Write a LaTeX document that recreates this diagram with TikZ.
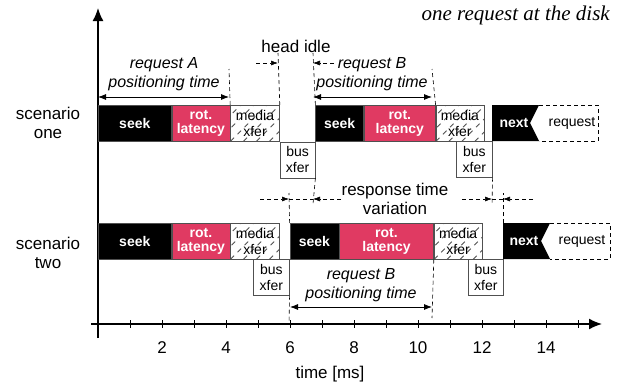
\documentclass[tikz,border=0pt]{standalone}
\usepackage{fontspec}
\setmainfont{Liberation Sans}
\newfontfamily\serifit{Liberation Serif}
\usetikzlibrary{arrows.meta, positioning}
\definecolor{rotcolor}{RGB}{224, 58, 98}
\definecolor{edgecolor}{RGB}{80, 80, 80}
\newcommand\barfont{\fontsize{14}{14}\selectfont\bfseries}
\newcommand\xferfont{\fontsize{14}{16}\selectfont}

\begin{document}
\begin{tikzpicture}[x=1pt, y=-1pt, >=Latex,
  seg/.style={draw=edgecolor, line width=0.6pt, minimum height=36pt,
    inner sep=0pt, anchor=north west, align=center},
  seekbox/.style={seg, fill=black, text=white, font=\barfont},
  rotbox/.style={seg, fill=rotcolor, text=white, font=\barfont},
  busbox/.style={seg, fill=white, font=\xferfont},
  mediabox/.style={seg, fill=white, font=\xferfont,
    path picture={
      \foreach \k in {-52,-39,...,65}
        \draw[line width=0.9pt, dash pattern=on 5pt off 5pt]
          ([xshift=\k pt]path picture bounding box.south west) -- ++(45,-45);
    }},
  guide/.style={line width=0.6pt, dash pattern=on 4pt off 3pt},
  dasharrow/.style={guide, -{Latex[length=7pt, width=5pt]}},
  dimarrow/.style={line width=0.8pt, {Latex[length=8pt, width=6pt]}-{Latex[length=8pt, width=6pt]}},
  axis/.style={line width=1.6pt, -{Latex[length=13pt, width=11pt]}},
  labeltext/.style={font=\fontsize{16}{18.5}\selectfont\itshape, align=center, inner sep=0pt},
  plaintext/.style={font=\fontsize{17}{18.5}\selectfont, align=center, inner sep=0pt}]

  \useasboundingbox (0,0) rectangle (622,388);

  % Axes
  \draw[axis] (91,324) -- (602,324);
  \draw[axis] (98,338) -- (98,8);
  \foreach \t in {1,...,15}
    \draw[line width=0.8pt] ({98+32*\t},320) -- ({98+32*\t},328);
  \foreach \t in {2,4,...,14}
    \node[plaintext] (tick\t) at ({98+32*\t},348) {\t};
  \node[plaintext] (xlabel) at (330,374) {time [ms]};

  % Title
  \node[anchor=east, inner sep=0pt, font=\fontsize{21}{24}\serifit\itshape] (title) at (610,15) {one request at the disk};

  % Scenario labels
  \node[plaintext] (scen1) at (48,123) {scenario\\one};
  \node[plaintext] (scen2) at (48,253) {scenario\\two};

  % Scenario one
  \node[seekbox, minimum width=73pt] (seekA1) at (98,105) {seek};
  \node[rotbox, minimum width=58pt] (rotA1) at (seekA1.north east) {rot.\\latency};
  \node[mediabox, minimum width=49pt] (mediaA1) at (rotA1.north east) {media\\xfer};
  \node[busbox, minimum width=35pt] (busA1) at (mediaA1.south east) {bus\\xfer};
  \node[seekbox, minimum width=48pt] (seekB1) at (busA1.north east |- mediaA1.north) {seek};
  \node[rotbox, minimum width=71pt] (rotB1) at (seekB1.north east) {rot.\\latency};
  \node[mediabox, minimum width=48pt] (mediaB1) at (rotB1.north east) {media\\xfer};
  \node[busbox, minimum width=36pt] (busB1) at (456,141) {bus\\xfer};
  \fill (492,105) -- (539,105) -- (530,123) -- (539,141) -- (492,141) -- cycle;
  \node[font=\barfont, text=white] (next1) at (514,123) {next};
  \draw[guide] (539,105) -- (598,105) -- (598,141) -- (539,141);
  \node[font=\xferfont, inner sep=0pt] (req1) at (572,123) {request};

  % Scenario two
  \node[seekbox, minimum width=73pt] (seekA2) at (98,223) {seek};
  \node[rotbox, minimum width=58pt] (rotA2) at (seekA2.north east) {rot.\\latency};
  \node[mediabox, minimum width=49pt] (mediaA2) at (rotA2.north east) {media\\xfer};
  \node[busbox, minimum width=36pt] (busA2) at (253,259) {bus\\xfer};
  \node[seekbox, minimum width=49pt] (seekB2) at (busA2.north east |- mediaA2.north) {seek};
  \node[rotbox, minimum width=94pt] (rotB2) at (seekB2.north east) {rot.\\latency};
  \node[mediabox, minimum width=48pt] (mediaB2) at (rotB2.north east) {media\\xfer};
  \node[busbox, minimum width=35pt] (busB2) at (468,259) {bus\\xfer};
  \fill (503,223) -- (550,223) -- (541,241) -- (550,259) -- (503,259) -- cycle;
  \node[font=\barfont, text=white] (next2) at (524,241) {next};
  \draw[guide] (550,223) -- (610,223) -- (610,259) -- (550,259);
  \node[font=\xferfont, inner sep=0pt] (req2) at (582,241) {request};

  % Positioning times, scenario one
  \coordinate (gA) at (229,69);
  \coordinate (gIdleL) at (278,53);
  \coordinate (gIdleR) at (313,53);
  \coordinate (gB) at (432,69);
  \draw[guide] (rotA1.north east) -- (gA);
  \draw[guide] (mediaA1.north east) -- (gIdleL);
  \draw[guide] (seekB1.north west) -- (gIdleR);
  \draw[guide] (rotB1.north east) -- (gB);
  \coordinate (posA1) at (98,97);
  \coordinate (posA2) at (229,97);
  \draw[dimarrow] (posA1) -- (posA2);
  \node[labeltext] (posAlabel) at (164,74) {request A\\positioning time};
  \coordinate (posB1) at (313,97);
  \coordinate (posB2) at (432,97);
  \draw[dimarrow] (posB1) -- (posB2);
  \node[labeltext] (posBlabel) at (372,74) {request B\\positioning time};

  % Head idle
  \coordinate (idleLtail) at (256,63);
  \coordinate (idleL) at (278,63);
  \coordinate (idleRtail) at (334,63);
  \coordinate (idleR) at (313,63);
  \draw[dasharrow] (idleLtail) -- (idleL);
  \draw[dasharrow] (idleRtail) -- (idleR);
  \node[plaintext] (idlelabel) at (296,46) {head idle};

  % Response time variation
  \coordinate (rtA) at (313,204);
  \coordinate (rtB) at (289,193);
  \coordinate (rtC) at (492,205);
  \coordinate (rtD) at (503,193);
  \coordinate (rtE) at (503,223);
  \draw[guide] (busA1.south east) -- (rtA);
  \draw[guide] (seekB2.north west) -- (rtB);
  \draw[guide] (busB1.south east) -- (rtC);
  \draw[guide] (rtE) -- (rtD);
  \coordinate (rt1tail) at (260,199);
  \coordinate (rt1) at (289,199);
  \coordinate (rt2) at (313,199);
  \coordinate (rt2tail) at (341,199);
  \coordinate (rt3tail) at (462,199);
  \coordinate (rt3) at (492,199);
  \coordinate (rt4) at (503,199);
  \coordinate (rt4tail) at (533,199);
  \draw[dasharrow] (rt1tail) -- (rt1);
  \draw[guide] (rt1) -- (rt2);
  \draw[dasharrow] (rt2tail) -- (rt2);
  \draw[dasharrow] (rt3tail) -- (rt3);
  \draw[guide] (rt3) -- (rt4);
  \draw[dasharrow] (rt4tail) -- (rt4);
  \node[plaintext] (rtlabel) at (395,199) {response time\\variation};

  % Positioning time, scenario two
  \coordinate (gC) at (289,324);
  \coordinate (gD) at (432,318);
  \draw[guide] (busA2.south east) -- (gC);
  \draw[guide] (rotB2.south east) -- (gD);
  \coordinate (posC1) at (290,307);
  \coordinate (posC2) at (432,307);
  \draw[dimarrow] (posC1) -- (posC2);
  \node[labeltext] (posClabel) at (361,285) {request B\\positioning time};

\end{tikzpicture}
\end{document}
